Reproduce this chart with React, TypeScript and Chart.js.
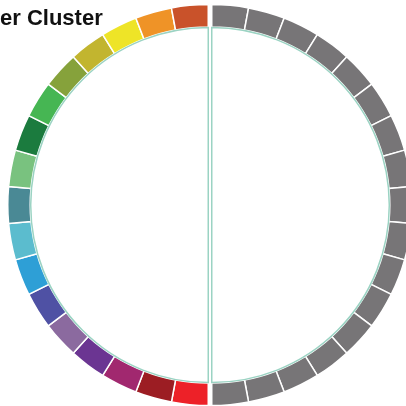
import React, { useEffect, useRef } from "react";
import { Chart, registerables } from "chart.js";

Chart.register(...registerables);

const TITLE = "er Cluster";

// Left half: clockwise from the bottom up to the top
const leftLabels = [
  "Red", "Dark Red", "Magenta", "Purple", "Mauve", "Indigo", "Blue", "Light Blue",
  "Teal", "Light Green", "Dark Green", "Green", "Olive", "Olive Yellow", "Yellow", "Orange", "Red Orange",
];
const leftValues = [1, 1, 1, 1, 1, 1, 1, 1, 1, 1, 1, 1, 1, 1, 1, 1, 1];
const leftColors = [
  "#ED2128", "#9C1D23", "#A1286F", "#6B3592", "#8B6A9F", "#4F51A4", "#2E9FD6", "#5BBCCE",
  "#4A8995", "#79C27F", "#1B7B3E", "#46B653", "#86A23B", "#C2B52F", "#EEE427", "#EF9327", "#C9522A",
];

// Right half: clockwise from the top down to the bottom
const rightLabels = Array.from({ length: 17 }, (_, i) => `Gray ${i + 1}`);
const rightValues = [1, 1, 1, 1, 1, 1, 1, 1, 1, 1, 1, 1, 1, 1, 1, 1, 1];
const grayColor = "#777577";
const outlineColor = "#9BD3C3";

function outlinePlugin(side: "left" | "right") {
  return {
    id: "halfOutline" + side,
    afterDatasetsDraw(chart: any) {
      const arc: any = chart.getDatasetMeta(0).data[0];
      if (!arc) return;
      const { x, y, innerRadius } = arc.getProps(["x", "y", "innerRadius"], true);
      const ctx = chart.ctx;
      ctx.save();
      ctx.strokeStyle = outlineColor;
      ctx.lineWidth = 1.5;
      ctx.beginPath();
      if (side === "left") ctx.arc(x, y, innerRadius - 0.5, Math.PI / 2, (3 * Math.PI) / 2);
      else ctx.arc(x, y, innerRadius - 0.5, -Math.PI / 2, Math.PI / 2);
      ctx.closePath();
      ctx.stroke();
      ctx.restore();
    },
  };
}

function HalfRing(props: {
  side: "left" | "right";
  labels: string[];
  values: number[];
  colors: string[] | string;
  left: number;
}) {
  const ref = useRef<HTMLCanvasElement | null>(null);
  useEffect(() => {
    if (!ref.current) return;
    const chart = new Chart(ref.current, {
      type: "doughnut",
      data: {
        labels: props.labels,
        datasets: [
          {
            data: props.values,
            backgroundColor: props.colors,
            borderColor: "#ffffff",
            borderWidth: 1.5,
          },
        ],
      },
      options: {
        responsive: false,
        animation: false,
        events: [],
        cutout: "88.8%",
        rotation: props.side === "left" ? 180 : 0,
        circumference: 180,
        layout: { padding: 0 },
        plugins: { legend: { display: false }, tooltip: { enabled: false }, title: { display: false } },
      } as any,
      plugins: [outlinePlugin(props.side)],
    });
    return () => chart.destroy();
  }, []);
  return (
    <canvas
      ref={ref}
      width={202}
      height={404}
      style={{ position: "absolute", left: props.left, top: 3, width: 202, height: 404 }}
    />
  );
}

export default function App() {
  return (
    <div
      style={{
        position: "fixed",
        left: 0,
        top: 0,
        width: 406,
        height: 406,
        overflow: "hidden",
        background: "#ffffff",
      }}
    >
      <HalfRing side="left" labels={leftLabels} values={leftValues} colors={leftColors} left={7} />
      <HalfRing side="right" labels={rightLabels} values={rightValues} colors={grayColor} left={211} />
      <div
        style={{
          position: "absolute",
          left: 0,
          top: 7,
          fontFamily: "'Liberation Sans', Arial, sans-serif",
          fontWeight: "bold",
          fontSize: 22,
          lineHeight: "22px",
          color: "#111111",
          whiteSpace: "nowrap",
        }}
      >
        {TITLE}
      </div>
    </div>
  );
}
